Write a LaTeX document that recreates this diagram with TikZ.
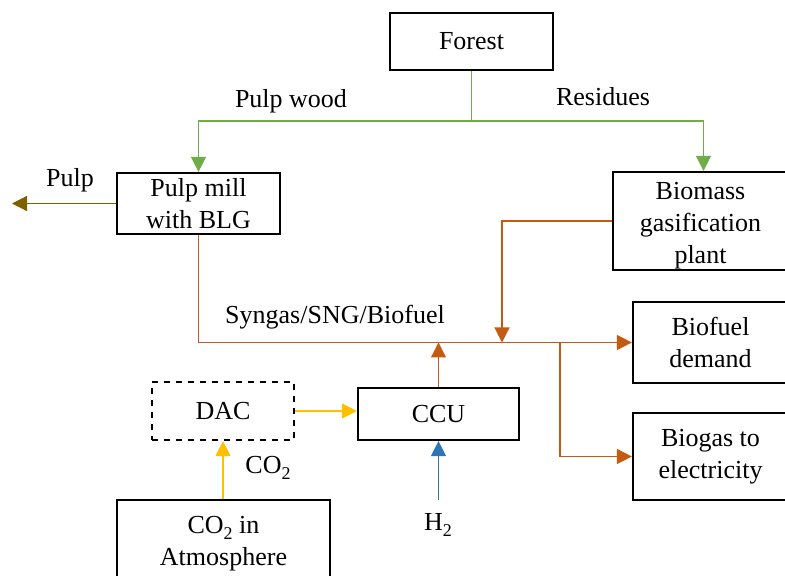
\documentclass[tikz,border=0pt]{standalone}
\usepackage{fontspec}
\setmainfont{Liberation Serif}
\usetikzlibrary{arrows.meta}
\newcommand\lowsub[1]{\raisebox{-0.45ex}{\fontsize{9}{9}\selectfont #1}}
\definecolor{cgreen}{HTML}{70AD47}
\definecolor{corange}{HTML}{C55A11}
\definecolor{cyellow}{HTML}{FFC000}
\definecolor{cblue}{HTML}{2E75B6}
\definecolor{colive}{HTML}{7F6000}
\tikzset{
  box/.style={draw=black, line width=1.1pt, align=center, inner sep=0pt, font=\fontsize{13}{16}\selectfont},
  lbl/.style={inner sep=0pt, font=\fontsize{13}{16}\selectfont},
  flow/.style={line width=0.6pt, -{Triangle[length=7.5pt,width=7.5pt]}},
  plain/.style={line width=0.6pt},
}
\begin{document}
\begin{tikzpicture}[x=0.5pt, y=-0.5pt]
\useasboundingbox (0,0) rectangle (785,576);
% boxes
\node[box, minimum width=81.5pt, minimum height=28.5pt] (forest) at (471.5,41.5) {Forest};
\node[box, minimum width=81.5pt, minimum height=30.5pt] (pulpmill) at (198.5,203.5) {Pulp mill\\with BLG};
\node[box, minimum width=87.5pt, minimum height=49pt] (biomass) at (700.5,221) {\parbox{80pt}{\centering\vspace*{5pt}Biomass\\gasification\\plant}};
\node[box, minimum width=77.5pt, minimum height=40.5pt] (biofuel) at (710.5,342.5) {Biofuel\\demand};
\node[box, minimum width=77.5pt, minimum height=43.5pt] (biogas) at (710.5,456.5) {Biogas to\\electricity};
\node[box, dashed, minimum width=71pt, minimum height=29pt] (dac) at (223,411) {DAC};
\node[box, minimum width=80.5pt, minimum height=26pt] (ccu) at (438.5,414) {CCU};
\node[box, minimum width=106.5pt, minimum height=44pt] (atm) at (223.5,544) {CO\lowsub{2} in\\Atmosphere};
% labels
\node[lbl] (lpw) at (291,101) {Pulp wood};
\node[lbl] (lres) at (603,97) {Residues};
\node[lbl] (lpulp) at (70,180) {Pulp};
\node[lbl] (lsyn) at (335,317) {Syngas/SNG/Biofuel};
\node[lbl] (lco2) at (268,468) {CO\lowsub{2}};
\node[lbl] (lh2) at (438,525) {H\lowsub{2}};
% coordinates
\coordinate (gj) at (471.5,121);
\coordinate (pulpend) at (12,203.5);
\coordinate (bioin) at (502,342.5);
\coordinate (branch) at (560,342.5);
\coordinate (h2start) at (438.5,500);
% green
\draw[plain, cgreen] (forest.south) -- (gj);
\draw[flow, cgreen] (gj) -| (pulpmill.north);
\draw[flow, cgreen] (gj) -| ([xshift=1.5pt]biomass.north);
% pulp
\draw[flow, colive] (pulpmill.west) -- (pulpend);
% orange
\draw[flow, corange] (pulpmill.south) |- (biofuel.west);
\draw[flow, corange] (biomass.west) -| (bioin);
\draw[flow, corange] (ccu.north) -- (ccu.north |- biofuel.west);
\draw[flow, corange] (branch) |- (biogas.west);
% yellow
\draw[flow, cyellow] (dac.east) -- (dac.east -| ccu.west);
\draw[flow, cyellow] (atm.north -| dac.south) -- (dac.south);
% blue
\draw[flow, cblue] (h2start) -- (ccu.south);
\end{tikzpicture}
\end{document}
